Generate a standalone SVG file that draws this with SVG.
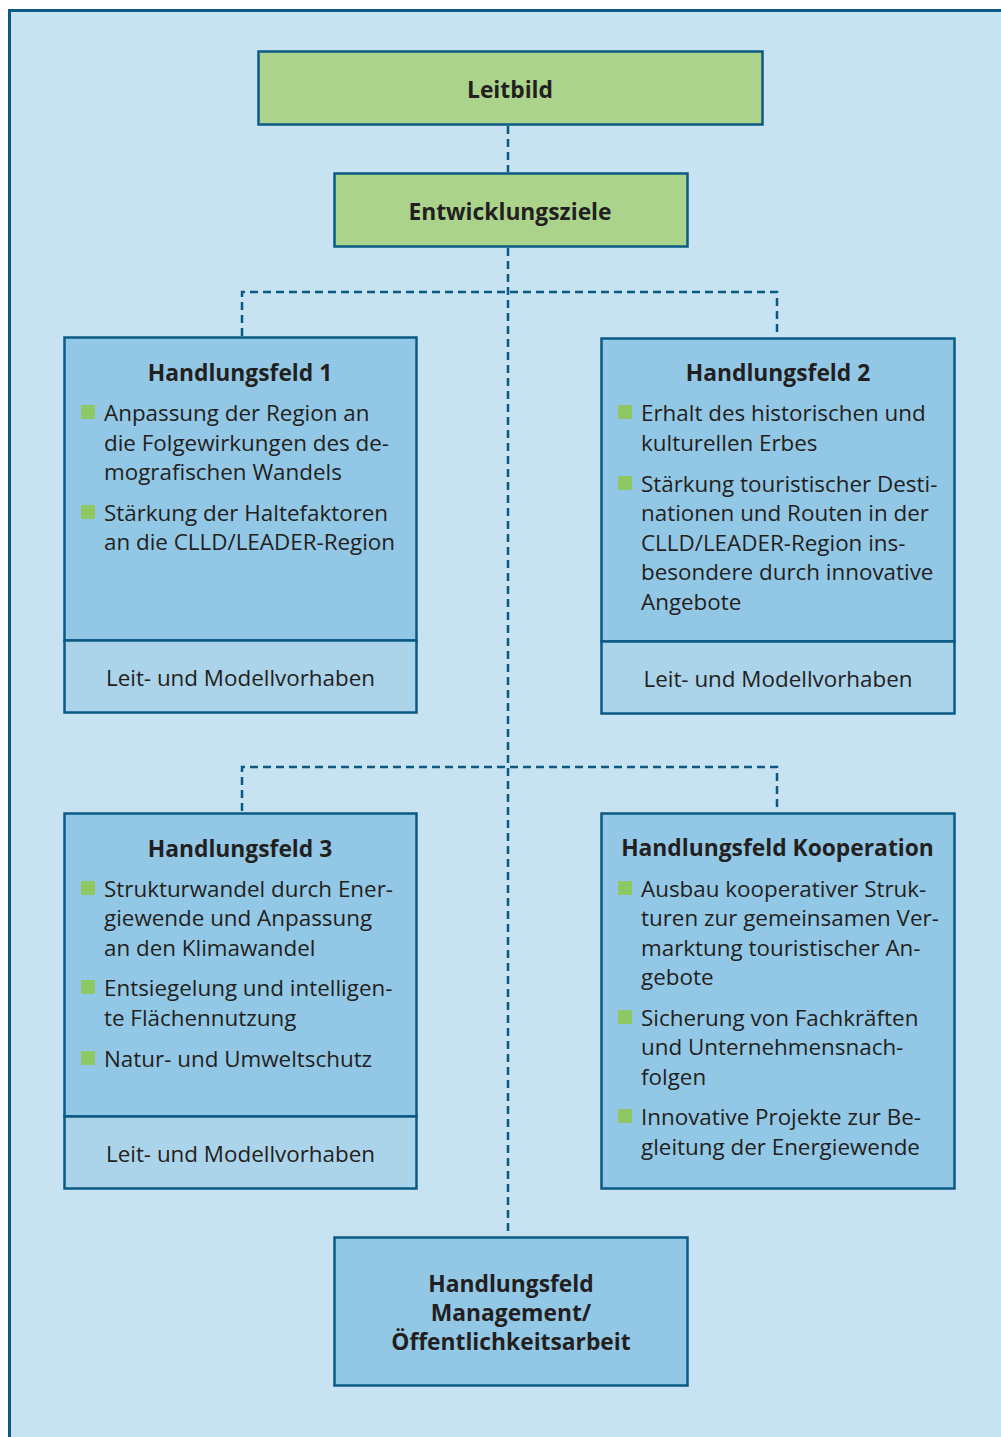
<svg xmlns="http://www.w3.org/2000/svg" width="1001" height="1437" viewBox="0 0 1001 1437">
<style>
.frame{fill:#c7e2f0;stroke:#0b5a84;stroke-width:3}
.green{fill:#abd38b;stroke:#0b5a84;stroke-width:2.5}
.blue{fill:#92c8e6;stroke:#0b5a84;stroke-width:2.5}
.foot{fill:#abd3ea;stroke:#0b5a84;stroke-width:2.5}
.dash{fill:none;stroke:#0b5a84;stroke-width:2.5;stroke-dasharray:8 5}
.t{font-family:"Open Sans","Liberation Sans",sans-serif;font-size:22.4px;fill:#231f20}
.b{font-family:"Open Sans","Liberation Sans",sans-serif;font-size:22.8px;font-weight:bold;fill:#231f20;text-anchor:middle}
.c{text-anchor:middle}
.sq{fill:#8dc865}
</style>
<rect class="frame" x="9.5" y="10.5" width="1000" height="1440"/>
<g id="connectors">
<path class="dash" d="M508 126V172"/>
<path class="dash" d="M508 248V1234"/>
<path class="dash" d="M242 336V292H777V336"/>
<path class="dash" d="M242 811V767H777V811"/>
</g>
<g id="leitbild">
<rect class="green" x="258.5" y="51.5" width="504" height="73"/>
<text class="b" x="510" y="98">Leitbild</text>
</g>
<g id="entwicklungsziele">
<rect class="green" x="334.5" y="173.5" width="353" height="73"/>
<text class="b" x="510" y="220">Entwicklungsziele</text>
</g>
<g id="hf1">
<rect class="blue" x="64.5" y="337.5" width="352" height="303"/>
<rect class="foot" x="64.5" y="640.5" width="352" height="72"/>
<text class="b" x="240" y="381">Handlungsfeld 1</text>
<rect class="sq" x="81" y="405" width="14" height="14"/>
<rect class="sq" x="81" y="505" width="14" height="14"/>
<text class="t"><tspan x="104" y="421">Anpassung der Region an</tspan><tspan x="104" y="451">die Folgewirkungen des de-</tspan><tspan x="104" y="480">mografischen Wandels</tspan><tspan x="104" y="521">Stärkung der Haltefaktoren</tspan><tspan x="104" y="550">an die CLLD/LEADER-Region</tspan></text>
<text class="t c" x="240.5" y="686">Leit- und Modellvorhaben</text>
</g>
<g id="hf2">
<rect class="blue" x="601.5" y="338.5" width="353" height="303"/>
<rect class="foot" x="601.5" y="641.5" width="353" height="72"/>
<text class="b" x="778" y="381">Handlungsfeld 2</text>
<rect class="sq" x="618" y="405" width="14" height="14"/>
<rect class="sq" x="618" y="476" width="14" height="14"/>
<text class="t"><tspan x="641" y="421">Erhalt des historischen und</tspan><tspan x="641" y="451">kulturellen Erbes</tspan><tspan x="641" y="492">Stärkung touristischer Desti-</tspan><tspan x="641" y="521">nationen und Routen in der</tspan><tspan x="641" y="551">CLLD/LEADER-Region ins-</tspan><tspan x="641" y="580">besondere durch innovative</tspan><tspan x="641" y="610">Angebote</tspan></text>
<text class="t c" x="778" y="687">Leit- und Modellvorhaben</text>
</g>
<g id="hf3">
<rect class="blue" x="64.5" y="813.5" width="352" height="303"/>
<rect class="foot" x="64.5" y="1116.5" width="352" height="72"/>
<text class="b" x="240" y="857">Handlungsfeld 3</text>
<rect class="sq" x="81" y="881" width="14" height="14"/>
<rect class="sq" x="81" y="980" width="14" height="14"/>
<rect class="sq" x="81" y="1051" width="14" height="14"/>
<text class="t"><tspan x="104" y="897">Strukturwandel durch Ener-</tspan><tspan x="104" y="926">giewende und Anpassung</tspan><tspan x="104" y="956">an den Klimawandel</tspan><tspan x="104" y="996">Entsiegelung und intelligen-</tspan><tspan x="104" y="1026">te Flächennutzung</tspan><tspan x="104" y="1067">Natur- und Umweltschutz</tspan></text>
<text class="t c" x="240.5" y="1162">Leit- und Modellvorhaben</text>
</g>
<g id="hfkoop">
<rect class="blue" x="601.5" y="813.5" width="353" height="375"/>
<text class="b" x="777.5" y="856">Handlungsfeld Kooperation</text>
<rect class="sq" x="618" y="881" width="14" height="14"/>
<rect class="sq" x="618" y="1010" width="14" height="14"/>
<rect class="sq" x="618" y="1109" width="14" height="14"/>
<text class="t"><tspan x="641" y="897">Ausbau kooperativer Struk-</tspan><tspan x="641" y="926">turen zur gemeinsamen Ver-</tspan><tspan x="641" y="956">marktung touristischer An-</tspan><tspan x="641" y="985">gebote</tspan><tspan x="641" y="1026">Sicherung von Fachkräften</tspan><tspan x="641" y="1055">und Unternehmensnach-</tspan><tspan x="641" y="1085">folgen</tspan><tspan x="641" y="1125">Innovative Projekte zur Be-</tspan><tspan x="641" y="1155">gleitung der Energiewende</tspan></text>
</g>
<g id="management">
<rect class="blue" x="334.5" y="1237.5" width="353" height="148"/>
<text class="b"><tspan x="511" y="1292">Handlungsfeld</tspan><tspan x="511" y="1321">Management/</tspan><tspan x="511" y="1350">Öffentlichkeitsarbeit</tspan></text>
</g>
</svg>
